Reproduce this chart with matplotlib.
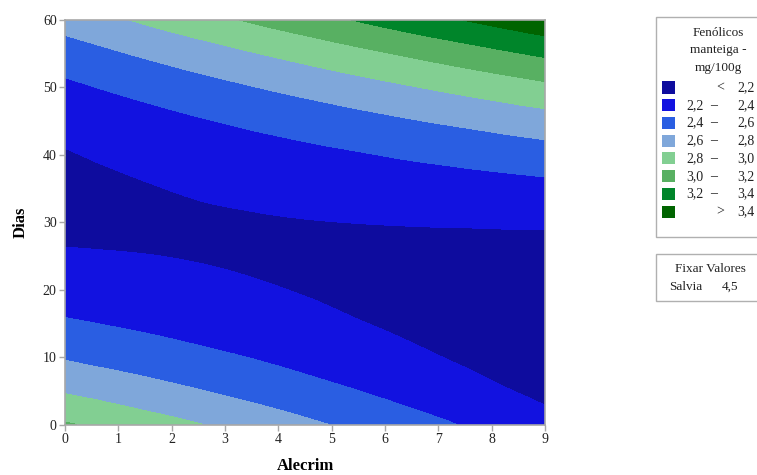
import numpy as np
import matplotlib
matplotlib.use("Agg")
import matplotlib.pyplot as plt
import matplotlib.tri as mtri
from matplotlib.patches import Rectangle

# ---- data ----
alecrim = [0, 1, 2, 3, 4, 5, 6, 7, 8, 9]
dias = [0, 5, 10, 15, 20, 25, 30, 35, 40, 45, 50, 55, 60]
# Fenólicos (manteiga, mg/100g) at each (dias row, alecrim column)
fen_d00 = [3.017, 2.933, 2.849, 2.764, 2.680, 2.596, 2.512, 2.428, 2.343, 2.259]
fen_d05 = [2.781, 2.712, 2.643, 2.574, 2.505, 2.435, 2.366, 2.297, 2.228, 2.159]
fen_d10 = [2.583, 2.529, 2.475, 2.421, 2.367, 2.312, 2.258, 2.204, 2.150, 2.096]
fen_d15 = [2.423, 2.384, 2.345, 2.306, 2.267, 2.227, 2.188, 2.149, 2.110, 2.071]
fen_d20 = [2.301, 2.277, 2.253, 2.228, 2.204, 2.180, 2.156, 2.132, 2.108, 2.084]
fen_d25 = [2.216, 2.207, 2.198, 2.189, 2.180, 2.171, 2.162, 2.153, 2.143, 2.134]
fen_d30 = [2.170, 2.176, 2.182, 2.187, 2.193, 2.199, 2.205, 2.211, 2.217, 2.223]
fen_d35 = [2.161, 2.182, 2.203, 2.224, 2.245, 2.266, 2.287, 2.307, 2.328, 2.349]
fen_d40 = [2.190, 2.226, 2.262, 2.298, 2.334, 2.370, 2.406, 2.442, 2.478, 2.513]
fen_d45 = [2.257, 2.308, 2.359, 2.410, 2.461, 2.512, 2.563, 2.614, 2.665, 2.716]
fen_d50 = [2.362, 2.428, 2.494, 2.560, 2.626, 2.692, 2.758, 2.824, 2.890, 2.956]
fen_d55 = [2.505, 2.586, 2.667, 2.748, 2.829, 2.910, 2.990, 3.071, 3.152, 3.233]
fen_d60 = [2.685, 2.781, 2.877, 2.973, 3.069, 3.165, 3.261, 3.357, 3.453, 3.549]
fenolicos = [fen_d00, fen_d05, fen_d10, fen_d15, fen_d20, fen_d25, fen_d30,
             fen_d35, fen_d40, fen_d45, fen_d50, fen_d55, fen_d60]

levels = [2.2, 2.4, 2.6, 2.8, 3.0, 3.2, 3.4]
band_colors = ["#0e0c9e", "#1212e0", "#2a5ee2", "#7fa7da",
               "#82cf92", "#58b062", "#00852a", "#006400"]
legend_left = ["<", "2,2", "2,4", "2,6", "2,8", "3,0", "3,2", ">"]
legend_right = ["2,2", "2,4", "2,6", "2,8", "3,0", "3,2", "3,4", "3,4"]
legend_title = ["Fenólicos", "manteiga -", "mg/100g"]
fixed_factor = "Salvia"
fixed_value = "4,5"

plt.rcParams["font.family"] = ["Liberation Serif", "DejaVu Serif"]

W, H = 757, 475
fig = plt.figure(figsize=(W / 100, H / 100), dpi=100)


def fx(px):
    return px / W


def fy(py):
    return 1 - py / H


ax = fig.add_axes([fx(65), fy(424.5), fx(545) - fx(65), fy(20) - fy(424.5)])
Xg, Yg = np.meshgrid(alecrim, dias)
Z = np.array(fenolicos)
# scale x so triangulation cells are well shaped, then refine smoothly
tri = mtri.Triangulation(Xg.ravel(), Yg.ravel())
interp = mtri.CubicTriInterpolator(tri, Z.ravel(), kind="geom")
refiner = mtri.UniformTriRefiner(tri)
tri_f, z_f = refiner.refine_field(Z.ravel(), triinterpolator=interp, subdiv=4)
all_levels = [-100] + levels + [100]
ax.tricontourf(tri_f, z_f, levels=all_levels, colors=band_colors,
               antialiased=False)
ax.set_xlim(0, 9)
ax.set_ylim(0, 60)
ax.set_xticks(range(0, 10))
ax.set_yticks(range(0, 61, 10))
for s in ax.spines.values():
    s.set_color("#a8a8a8")
    s.set_linewidth(1.2)
ax.tick_params(direction="out", length=4, width=1, color="#a8a8a8",
               labelsize=10, pad=2, labelcolor="#222222")
ax.set_xlabel("Alecrim", fontsize=12, fontweight="bold", labelpad=9)
ax.set_ylabel("Dias", fontsize=12, fontweight="bold", labelpad=10)

# ---- legend box (drawn manually, clipped by the figure edge) ----
fig.add_artist(Rectangle((fx(656), fy(237)), fx(800) - fx(656), fy(17) - fy(237),
                         transform=fig.transFigure, facecolor="white",
                         edgecolor="#b0b0b0", linewidth=1))
for i, t in enumerate(legend_title):
    fig.text(fx(718), fy(33 + i * 17.5), t, ha="center", va="center",
             fontsize=9.5, color="#222222")
row0, dy = 87.5, 17.75
for i, c in enumerate(band_colors):
    yy = row0 + i * dy
    fig.add_artist(Rectangle((fx(662), fy(yy + 6)), fx(675) - fx(662), fy(yy - 6) - fy(yy + 6),
                             transform=fig.transFigure, facecolor=c, edgecolor="none"))
    if legend_left[i] in ("<", ">"):
        fig.text(fx(716), fy(yy), legend_left[i], ha="left", va="center",
                 fontsize=10, color="#222222")
    else:
        fig.text(fx(686), fy(yy), legend_left[i], ha="left", va="center",
                 fontsize=10, color="#222222")
        fig.text(fx(714), fy(yy), "–", ha="center", va="center",
                 fontsize=10, color="#222222")
    fig.text(fx(737), fy(yy), legend_right[i], ha="left", va="center",
             fontsize=10, color="#222222")

fig.add_artist(Rectangle((fx(656), fy(301)), fx(800) - fx(656), fy(254) - fy(301),
                         transform=fig.transFigure, facecolor="white",
                         edgecolor="#b0b0b0", linewidth=1))
fig.text(fx(710), fy(269), "Fixar Valores", ha="center", va="center",
         fontsize=9.5, color="#222222")
fig.text(fx(669), fy(287), fixed_factor, ha="left", va="center",
         fontsize=9.5, color="#222222")
fig.text(fx(722), fy(287), fixed_value, ha="left", va="center",
         fontsize=9.5, color="#222222")

fig.savefig("out.png", dpi=100)
